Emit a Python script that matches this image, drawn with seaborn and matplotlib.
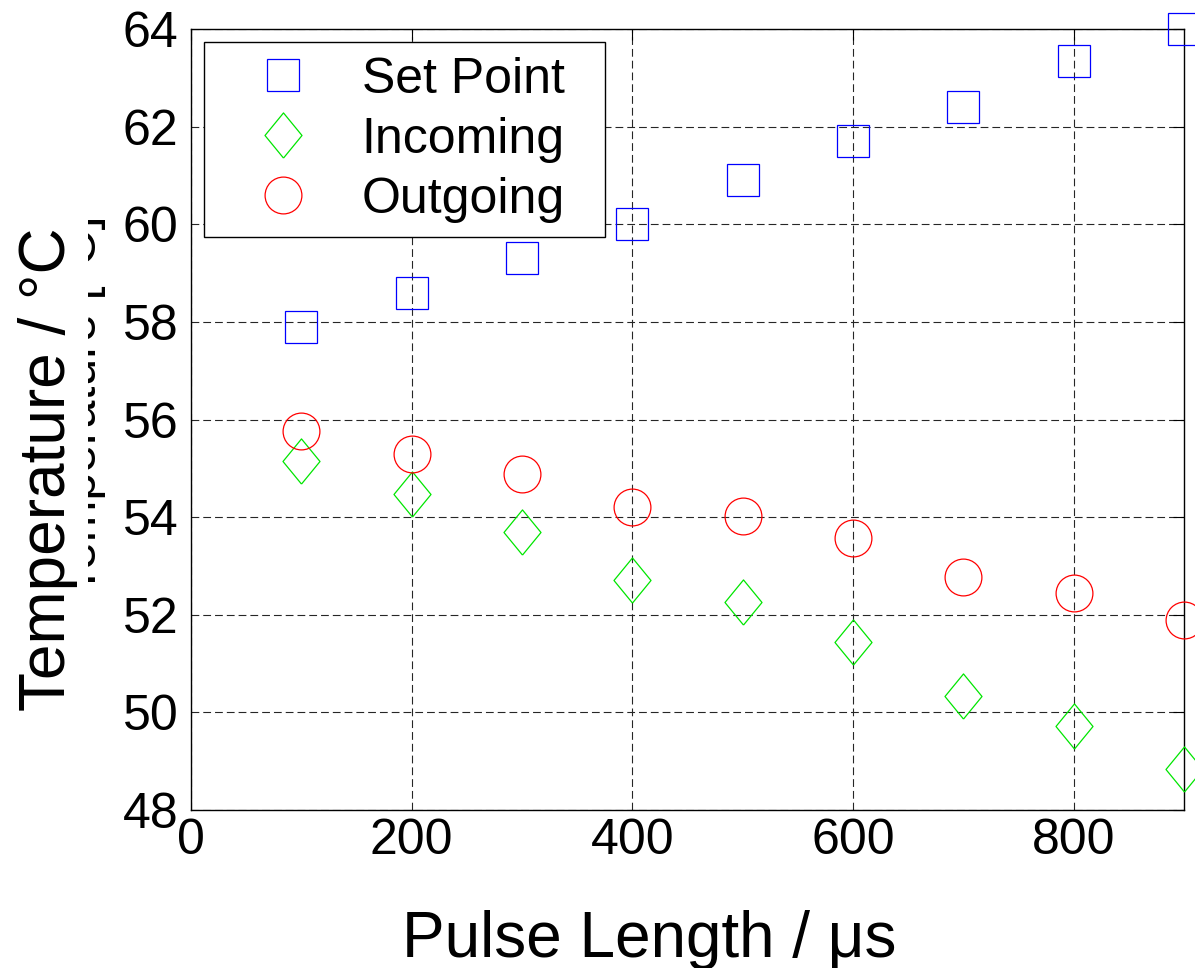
import matplotlib
matplotlib.use("Agg")
import matplotlib.pyplot as plt
import seaborn as sns
import pandas as pd
from matplotlib.patches import Rectangle

pulse_length = [100, 200, 300, 400, 500, 600, 700, 800, 900]
set_point = [57.9, 58.6, 59.3, 60.0, 60.9, 61.7, 62.4, 63.35, 64.0]
incoming = [55.15, 54.47, 53.69, 52.71, 52.26, 51.44, 50.33, 49.72, 48.84]
outgoing = [55.76, 55.29, 54.88, 54.2, 54.02, 53.57, 52.77, 52.44, 51.89]

x_ticks = [0, 200, 400, 600, 800]
y_ticks = [48, 50, 52, 54, 56, 58, 60, 62, 64]

series_names = ["Set Point", "Incoming", "Outgoing"]
series_values = [set_point, incoming, outgoing]

sns.set_style("white")
plt.rcParams["font.family"] = ["Liberation Sans", "DejaVu Sans"]
plt.rcParams["text.color"] = "black"
plt.rcParams["axes.labelcolor"] = "black"
plt.rcParams["xtick.color"] = "black"
plt.rcParams["ytick.color"] = "black"

W, H = 1195, 968
fig = plt.figure(figsize=(W / 100, H / 100), dpi=100)
ax = fig.add_axes([191 / W, 1 - 810 / H, 993 / W, 781 / H])
ax.set_zorder(1)

diamond = [(0, -1), (0.82, 0), (0, 1), (-0.82, 0), (0, -1)]
styles = {
    "Set Point": dict(marker="s", ms=23.5, color=(0, 0, 1)),
    "Incoming": dict(marker=diamond, ms=32.5, color=(0, 0.9, 0)),
    "Outgoing": dict(marker="o", ms=26.5, color=(1, 0, 0)),
}

for name, vals in zip(series_names, series_values):
    df = pd.DataFrame({"x": pulse_length, "y": vals})
    st = styles[name]
    sns.lineplot(data=df, x="x", y="y", ax=ax, estimator=None,
                 linestyle="", marker=st["marker"], markersize=st["ms"],
                 markerfacecolor="none", markeredgecolor=st["color"],
                 markeredgewidth=0.9, color=st["color"], label=name,
                 clip_on=False, zorder=3)

ax.set_xlim(0, 900)
ax.set_ylim(48, 64)
ax.set_xticks(x_ticks)
ax.set_yticks(y_ticks)
ax.tick_params(axis="both", which="both", direction="in", length=8,
               width=0.8, labelsize=36, top=True, right=True,
               colors="black", labelcolor="black")
ax.tick_params(axis="x", pad=6)
ax.tick_params(axis="y", pad=9)

ax.grid(True, color="0.15", linestyle=(0, (7, 3.6)), linewidth=0.8, zorder=0)
ax.set_axisbelow(True)
for sp in ax.spines.values():
    sp.set_visible(True)
    sp.set_color("black")
    sp.set_linewidth(1.0)

ax.set_xlabel("Pulse Length / μs", fontsize=46, color="black")
ax.set_ylabel("Temperature / °C", fontsize=46, color="black")
ax.xaxis.set_label_coords(0.4617, -0.128)
ax.yaxis.set_label_coords(-0.1138, 0.437)

# ghost of an older label partly covered
fig.text(106 / W, 1 - 404.5 / H, "Temperature [°C]", rotation=90,
         ha="right", va="center", fontsize=36, color="black", zorder=0.1)
fig.patches.append(Rectangle((0, 1 - 620 / H), 88 / W, 420 / H,
                             transform=fig.transFigure, facecolor="white",
                             edgecolor="none", zorder=0.2))

leg = ax.legend(loc="upper left", bbox_to_anchor=(0.0131, 0, 0.404, 0.983),
                mode="expand", borderaxespad=0, fontsize=36, frameon=True,
                fancybox=False, framealpha=1, edgecolor="black",
                borderpad=0.285, labelspacing=0.28, handlelength=2.6,
                handletextpad=0.27)
leg.get_frame().set_linewidth(1.0)
for t in leg.get_texts():
    t.set_color("black")

fig.savefig("out.png", dpi=100)
